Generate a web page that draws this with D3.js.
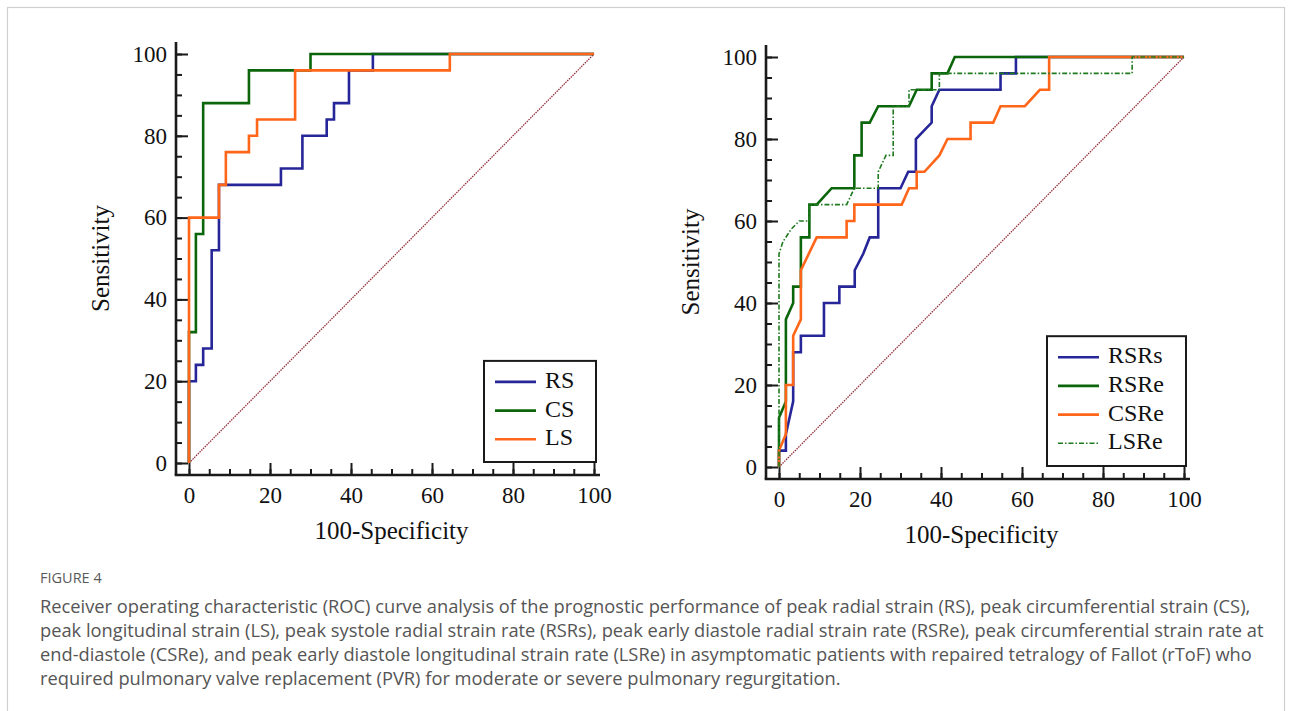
<!DOCTYPE html>
<html>
<head>
<meta charset="utf-8">
<script src="https://cdn.jsdelivr.net/npm/d3@7"></script>
<style>
  body { margin: 0; background: #fff; }
  svg text { font-family: 'Liberation Serif', 'Times New Roman', serif; fill: #111; }
  .caption text { font-family: 'Open Sans', sans-serif; fill: #555; }
</style>
</head>
<body>
<svg id="fig" width="1292" height="711"></svg>
<script>
// tick labels (both panels)
const tickValues = [0, 20, 40, 60, 80, 100]
const minorTicks = d3.range(0, 101, 5)

// left panel: strain
const leftNames = ['RS', 'CS', 'LS']
const rsPoints = [[0,0],[0,20],[1.7,20],[1.7,24],[3.5,24],[3.5,28],[5.6,28],[5.6,52],[7.4,52],[7.4,68],[22.7,68],[22.7,72],[28,72],[28,80],[34,80],[34,84],[35.8,84],[35.8,88],[39.5,88],[39.5,96],[45.4,96],[45.4,100],[100,100]]
const csPoints = [[0,0],[0,32],[1.7,32],[1.7,56],[3.5,56],[3.5,88],[14.8,88],[14.8,96],[30,96],[30,100],[100,100]]
const lsPoints = [[0,0],[0,60],[7.4,60],[7.4,68],[9.1,68],[9.1,76],[14.8,76],[14.8,80],[16.8,80],[16.8,84],[26.2,84],[26.2,96],[64.4,96],[64.4,100],[100,100]]

// right panel: strain rate
const rightNames = ['RSRs', 'RSRe', 'CSRe', 'LSRe']
const rsrsPoints = [[0,0],[0,4],[1.7,4],[1.7,8],[3.5,16],[3.5,28],[5.4,28],[5.4,32],[11.1,32],[11.1,40],[14.9,40],[14.9,44],[18.7,44],[18.7,48],[20.8,52],[22.4,56],[24.5,56],[24.5,68],[30,68],[31.9,72],[33.8,72],[33.8,80],[37.7,84],[37.7,88],[39.6,92],[54.7,92],[54.7,96],[58.5,96],[58.5,100],[100,100]]
const rsrePoints = [[0,0],[0,12],[1.7,16],[1.7,36],[3.5,40],[3.5,44],[5.4,44],[5.4,56],[7.5,56],[7.5,64],[9.3,64],[13,68],[18.6,68],[18.6,76],[20.4,76],[20.4,84],[22.4,84],[24.5,88],[32.1,88],[34,92],[37.7,92],[37.7,96],[41.6,96],[43.4,100],[100,100]]
const csrePoints = [[0,0],[0,4],[1.7,8],[1.7,20],[3.5,20],[3.5,32],[5.4,36],[5.4,48],[9.3,56],[16.7,56],[16.7,60],[18.6,60],[18.6,64],[30.3,64],[32.1,68],[34,68],[34,72],[35.9,72],[39.6,76],[41.6,80],[47.3,80],[47.3,84],[52.9,84],[54.7,88],[60.7,88],[64.4,92],[66.7,92],[66.7,100],[100,100]]
const lsrePoints = [[0,0],[0,52],[1,55],[3,58],[5,60],[7.5,60],[7.5,64],[16.7,64],[18.6,68],[24.5,68],[24.5,72],[26.4,76],[28.2,76],[28.2,88],[32.1,88],[32.1,92],[39.6,92],[39.6,96],[87.2,96],[87.2,100],[100,100]]

const captionLabel = 'FIGURE 4'
const captionLines = [
  'Receiver operating characteristic (ROC) curve analysis of the prognostic performance of peak radial strain (RS), peak circumferential strain (CS),',
  'peak longitudinal strain (LS), peak systole radial strain rate (RSRs), peak early diastole radial strain rate (RSRe), peak circumferential strain rate at',
  'end-diastole (CSRe), and peak early diastole longitudinal strain rate (LSRe) in asymptomatic patients with repaired tetralogy of Fallot (rToF) who',
  'required pulmonary valve replacement (PVR) for moderate or severe pulmonary regurgitation.'
]

const BLUE = '#262699', GREEN = '#0b660b', ORANGE = '#ff6619', DOTGREEN = '#1f7a1f'

const svg = d3.select('#fig')

// outer frame
svg.append('rect')
  .attr('x', 7.5).attr('y', 7.5).attr('width', 1277).attr('height', 720)
  .attr('fill', 'none').attr('stroke', '#cfcfcf').attr('stroke-width', 1.2)

// draw one ROC panel
function drawPanel(opt) {
  const x = d3.scaleLinear([0, 100], [opt.x0, opt.x0 + 405])
  const y = d3.scaleLinear([0, 100], [opt.y0, opt.y0 - opt.h])
  const axX = x(0) - 13   // y-axis is offset left of the origin
  const axY = y(0) + 12   // x-axis is offset below the origin
  const g = svg.append('g')

  // minor ticks
  g.append('g').attr('transform', `translate(${axX},0)`)
    .call(d3.axisLeft(y).tickValues(minorTicks).tickSizeInner(-6).tickSizeOuter(0).tickFormat(''))
  g.append('g').attr('transform', `translate(0,${axY})`)
    .call(d3.axisBottom(x).tickValues(minorTicks).tickSizeInner(-6).tickSizeOuter(0).tickFormat(''))

  // major ticks + labels
  g.append('g').attr('transform', `translate(${axX},0)`)
    .call(d3.axisLeft(y).tickValues(tickValues).tickSizeInner(-12).tickSizeOuter(0).tickPadding(9))
  g.append('g').attr('transform', `translate(0,${axY})`)
    .call(d3.axisBottom(x).tickValues(tickValues).tickSizeInner(-12).tickSizeOuter(0).tickPadding(12))

  g.selectAll('.domain').remove()
  g.selectAll('.tick line').attr('stroke', '#1a1a1a').attr('stroke-width', 2)
  g.selectAll('.tick text').attr('font-size', 23).attr('font-family', null).attr('fill', '#111')

  // axis lines
  g.append('line').attr('x1', axX).attr('x2', axX).attr('y1', y(100) - 12).attr('y2', axY)
    .attr('stroke', '#1a1a1a').attr('stroke-width', 2.6)
  g.append('line').attr('x1', axX - 1.3).attr('x2', x(100) + 6).attr('y1', axY).attr('y2', axY)
    .attr('stroke', '#1a1a1a').attr('stroke-width', 2.6)

  // axis titles
  g.append('text').attr('x', x(50)).attr('y', axY + 64)
    .attr('text-anchor', 'middle').attr('font-size', 25).text('100-Specificity')
  g.append('text').attr('transform', `translate(${axX - 67},${y(50)}) rotate(-90)`)
    .attr('text-anchor', 'middle').attr('font-size', 25).text('Sensitivity')

  // reference diagonal
  g.append('line').attr('x1', x(0)).attr('y1', y(0)).attr('x2', x(100)).attr('y2', y(100))
    .attr('stroke', '#93303c').attr('stroke-width', 1.3).attr('stroke-dasharray', '1.5,1')

  const line = d3.line().x(d => x(d[0])).y(d => y(d[1]))
  opt.series.forEach(s => {
    g.append('path').datum(s.points)
      .attr('d', line)
      .attr('fill', 'none')
      .attr('stroke', s.color)
      .attr('stroke-width', s.dash ? 1.6 : 2.6)
      .attr('stroke-dasharray', s.dash || null)
      .attr('stroke-linejoin', 'miter')
  })

  // legend
  const lg = g.append('g')
  const boxW = opt.legendW, rowH = 28.7
  const boxH = opt.series.length * rowH + 15
  const bx = x(100) + 2 - boxW, by = y(0) - 1 - boxH
  lg.append('rect').attr('x', bx).attr('y', by).attr('width', boxW).attr('height', boxH)
    .attr('fill', '#fff').attr('stroke', '#1a1a1a').attr('stroke-width', 2)
  opt.series.forEach((s, i) => {
    const ry = by + 21 + i * rowH
    lg.append('line').attr('x1', bx + 11).attr('x2', bx + 52).attr('y1', ry).attr('y2', ry)
      .attr('stroke', s.color).attr('stroke-width', s.dash ? 1.6 : 2.6)
      .attr('stroke-dasharray', s.dash || null)
    lg.append('text').attr('x', bx + 61).attr('y', ry + 6).attr('font-size', 24).text(s.name)
  })
}

drawPanel({
  x0: 189, y0: 463, h: 409, legendW: 112,
  series: [
    { name: leftNames[0], points: rsPoints, color: BLUE },
    { name: leftNames[1], points: csPoints, color: GREEN },
    { name: leftNames[2], points: lsPoints, color: ORANGE }
  ]
})

drawPanel({
  x0: 779, y0: 467, h: 410, legendW: 139,
  series: [
    { name: rightNames[0], points: rsrsPoints, color: BLUE },
    { name: rightNames[1], points: rsrePoints, color: GREEN },
    { name: rightNames[2], points: csrePoints, color: ORANGE },
    { name: rightNames[3], points: lsrePoints, color: DOTGREEN, dash: '5,2,1.5,2' }
  ]
})

// caption
const cap = svg.append('g').attr('class', 'caption')
cap.append('text').attr('x', 40).attr('y', 583).attr('font-size', 14.5)
  .style('fill', '#5a5a5a')
  .text(captionLabel)
cap.selectAll('.line').data(captionLines).join('text').attr('class', 'line')
  .attr('x', 40).attr('y', (d, i) => 613 + i * 24)
  .attr('font-size', 18.3)
  .text(d => d)
</script>
</body>
</html>
